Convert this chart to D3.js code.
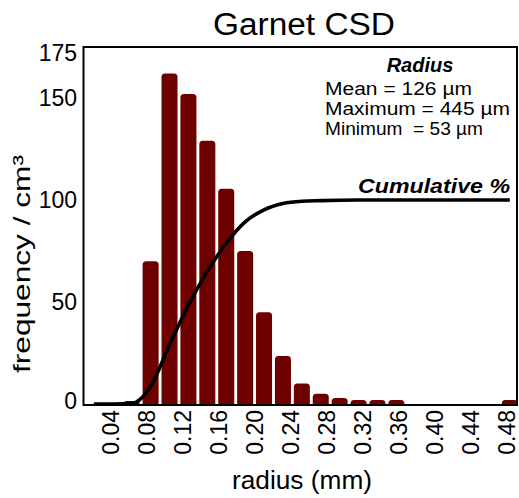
<!DOCTYPE html>
<html>
<head>
<meta charset="utf-8">
<script src="https://cdn.jsdelivr.net/npm/d3@7"></script>
<style>
  html, body { margin: 0; padding: 0; background: #fff; }
  svg { display: block; }
  text { font-family: "Liberation Sans", Arial, Helvetica, sans-serif; fill: #000; }
</style>
</head>
<body>
<svg id="chart" width="519" height="498"></svg>
<script>
// ---- data ----
const binCenters = [0.021,0.042,0.063,0.084,0.105,0.126,0.147,0.168,0.189,0.210,0.231,0.252,0.273,0.294,0.315,0.336,0.357,0.378,0.399,0.420,0.441,0.462,0.483];
const frequency  = [0,0,1.5,70,162,152,129,105.5,75,45,23.5,10,5,3,2,2,2,0,0,0,0,0,2];
const cumulative = [0,0,0.3,8.6,29,48.5,65,78.8,89.3,95.2,98.3,99.4,99.7,99.9,100,100,100,100,100,100,100,100,100];
const xTicks = [0.04,0.08,0.12,0.16,0.20,0.24,0.28,0.32,0.36,0.40,0.44,0.48];
const yTicks = [0,50,100,150,175];
const statsLines = ["Mean = 126 \u00b5m", "Maximum = 445 \u00b5m", "Minimum  = 53 \u00b5m"];

// ---- layout ----
const svg = d3.select("#chart");
const plotL = 84, plotR = 517, plotT = 47, plotB = 404;
const x = d3.scaleLinear().domain([0.01, 0.491]).range([plotL, plotR]);
const y = d3.scaleLinear().domain([0, 175]).range([plotB, plotT]);
const barW = 0.0178;
const barColor = "#6f0000";
const statsTextWidths = [147, 185, 158];

// bars with rounded top corners
function barPath(c, v) {
  const x0 = x(c - barW / 2), x1 = x(c + barW / 2);
  const y0 = y(0), y1 = y(v);
  const h = y0 - y1;
  if (h <= 0) return null;
  const r = Math.min(3.5, h, (x1 - x0) / 2);
  return `M${x0},${y0} L${x0},${y1 + r} Q${x0},${y1} ${x0 + r},${y1} L${x1 - r},${y1} Q${x1},${y1} ${x1},${y1 + r} L${x1},${y0} Z`;
}
svg.append("g").selectAll("path")
  .data(binCenters.map((c, i) => ({ c, v: frequency[i] })).filter(d => d.v > 0))
  .join("path")
  .attr("d", d => barPath(d.c, d.v))
  .attr("fill", barColor);

// cumulative line
const line = d3.line()
  .x((d, i) => x(binCenters[i]))
  .y(d => y(d))
  .curve(d3.curveMonotoneX);
svg.append("path")
  .datum(cumulative)
  .attr("d", line)
  .attr("fill", "none")
  .attr("stroke", "#000")
  .attr("stroke-width", 3.6)
  .attr("stroke-linejoin", "round");

// frame
svg.append("rect")
  .attr("x", plotL - 0.5).attr("y", plotT)
  .attr("width", plotR - plotL + 0.5).attr("height", plotB - plotT + 1)
  .attr("fill", "none").attr("stroke", "#000").attr("stroke-width", 2);

// y tick labels
svg.append("g").selectAll("text")
  .data(yTicks)
  .join("text")
  .attr("x", 77)
  .attr("y", d => y(d))
  .attr("dy", d => d === 175 ? "0.62em" : (d === 0 ? "0.2em" : "0.35em"))
  .attr("text-anchor", "end")
  .style("font-size", "23px")
  .text(d => d3.format("d")(d));

// x tick labels (rotated)
svg.append("g").selectAll("text")
  .data(xTicks)
  .join("text")
  .attr("transform", d => `translate(${x(d)},410) rotate(-90)`)
  .attr("dy", "0.35em")
  .attr("text-anchor", "end")
  .style("font-size", "23px")
  .text(d => d3.format(".2f")(d));

// titles
svg.append("text")
  .attr("x", 304).attr("y", 35)
  .attr("text-anchor", "middle")
  .attr("textLength", 182)
  .attr("lengthAdjust", "spacingAndGlyphs")
  .style("font-size", "31px")
  .text("Garnet CSD");

svg.append("text")
  .attr("x", 302).attr("y", 489)
  .attr("text-anchor", "middle")
  .attr("textLength", 140)
  .attr("lengthAdjust", "spacingAndGlyphs")
  .style("font-size", "25.5px")
  .text("radius (mm)");

svg.append("text")
  .attr("transform", "translate(30,264) rotate(-90)")
  .attr("text-anchor", "middle")
  .attr("textLength", 218)
  .attr("lengthAdjust", "spacingAndGlyphs")
  .style("font-size", "24px")
  .text("frequency / cm\u00b3");

// stats box
svg.append("text")
  .attr("x", 420).attr("y", 72)
  .attr("text-anchor", "middle")
  .style("font-size", "20px")
  .style("font-weight", "bold")
  .style("font-style", "italic")
  .text("Radius");

svg.append("g").selectAll("text")
  .data(statsLines)
  .join("text")
  .attr("x", 325)
  .attr("y", (d, i) => 95 + i * 20)
  .attr("textLength", (d, i) => statsTextWidths[i])
  .attr("lengthAdjust", "spacingAndGlyphs")
  .style("font-size", "17.5px")
  .style("white-space", "pre")
  .text(d => d);

svg.append("text")
  .attr("x", 510).attr("y", 193)
  .attr("text-anchor", "end")
  .attr("textLength", 152)
  .attr("lengthAdjust", "spacingAndGlyphs")
  .style("font-size", "21px")
  .style("font-weight", "bold")
  .style("font-style", "italic")
  .text("Cumulative %");
</script>
</body>
</html>
